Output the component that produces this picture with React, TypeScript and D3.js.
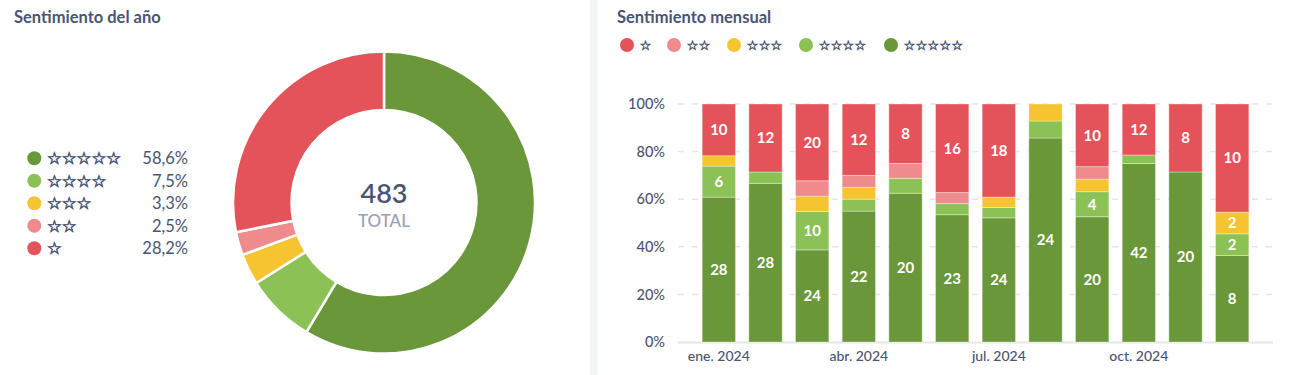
import React from "react";
import * as d3 from "d3";

const ratingLabels = ["☆☆☆☆☆", "☆☆☆☆", "☆☆☆", "☆☆", "☆"];
const ratingColors = ["#69973a", "#8bc155", "#f6c431", "#ef8b8c", "#e5535a"];
const yearPercentLabels = ["58,6%", "7,5%", "3,3%", "2,5%", "28,2%"];
const yearCounts = [283, 36, 16, 12, 136];
const totalCount = 483;

const months = ["ene. 2024", "feb. 2024", "mar. 2024", "abr. 2024", "may. 2024", "jun. 2024", "jul. 2024", "ago. 2024", "sep. 2024", "oct. 2024", "nov. 2024", "dic. 2024"];
const shownMonthTicks = ["ene. 2024", "abr. 2024", "jul. 2024", "oct. 2024"];
const fiveStar = [28, 28, 24, 22, 20, 23, 24, 24, 20, 42, 20, 8];
const fourStar = [6, 2, 10, 2, 2, 2, 2, 2, 4, 2, 0, 2];
const threeStar = [2, 0, 4, 2, 0, 0, 2, 2, 2, 0, 0, 2];
const twoStar = [0, 0, 4, 2, 2, 2, 0, 0, 2, 0, 0, 0];
const oneStar = [10, 12, 20, 12, 8, 16, 18, 0, 10, 12, 8, 10];
const yTicks = [0, 0.2, 0.4, 0.6, 0.8, 1];

const FONT = "Lato, 'DejaVu Sans', sans-serif";
const TEXT = "#4a5573";

export default function App() {
  const W = 1292, H = 375;
  // donut
  const cx = 384, cy = 202.5;
  const pie = d3.pie<number>().sort(null).value((d) => d).startAngle(0).endAngle(2 * Math.PI);
  const arcs = pie(yearCounts);
  const arc = d3.arc<d3.PieArcDatum<number>>().innerRadius(92.5).outerRadius(151);

  // bars
  const x = d3.scaleBand<string>().domain(months).range([678, 1273]).paddingInner(0.286).paddingOuter(0.518);
  const y = d3.scaleLinear().domain([0, 1]).range([342, 104]);
  const series = [fiveStar, fourStar, threeStar, twoStar, oneStar];
  const rows = months.map((m, i) => {
    const r: any = { month: m };
    series.forEach((s, k) => (r["k" + k] = s[i]));
    return r;
  });
  const stack = d3.stack<any>().keys(["k0", "k1", "k2", "k3", "k4"]).offset(d3.stackOffsetExpand);
  const stacked = stack(rows);

  const legendRightX = [627, 674, 734, 806, 891];

  return (
    <svg width={W} height={H} style={{ position: "absolute", left: 0, top: 0, fontFamily: FONT }}>
      <rect x={0} y={0} width={W} height={H} fill="#ffffff" />
      {/* divider */}
      <rect x={590} y={0} width={7.5} height={H} fill="#f3f4f6" />

      {/* left panel */}
      <text x={14} y={22.5} fontSize={16.5} fontWeight={700} fill={TEXT}>Sentimiento del año</text>
      {ratingLabels.map((l, i) => {
        const yy = 158.3 + i * 22.5;
        return (
          <g key={l}>
            <circle cx={34.3} cy={yy} r={7} fill={ratingColors[i]} />
            <text x={47} y={yy} dy="0.36em" fontSize={16.5} fill={TEXT} stroke={TEXT} strokeWidth={0.7} fontFamily="'DejaVu Sans', sans-serif">{l}</text>
            <text x={188} y={yy} dy="0.36em" fontSize={16.5} fill={TEXT} textAnchor="end">{yearPercentLabels[i]}</text>
          </g>
        );
      })}
      <g transform={`translate(${cx},${cy})`}>
        {arcs.map((a, i) => (
          <path key={i} d={arc(a) || ""} fill={ratingColors[i]} stroke="#ffffff" strokeWidth={2.5} />
        ))}
        <text x={0} y={-9} dy="0.36em" textAnchor="middle" fontSize={27} fontWeight={600} fill={TEXT}>{totalCount}</text>
        <text x={0} y={18} dy="0.36em" textAnchor="middle" fontSize={17} fontWeight={500} fill="#9aa0b5">TOTAL</text>
      </g>

      {/* right panel */}
      <text x={617} y={22.5} fontSize={16.5} fontWeight={700} fill={TEXT}>Sentimiento mensual</text>
      {[4, 3, 2, 1, 0].map((k, j) => (
        <g key={k}>
          <circle cx={legendRightX[j]} cy={45} r={7} fill={ratingColors[k]} />
          <text x={legendRightX[j] + 12.5} y={45} dy="0.36em" fontSize={13.3} fill={TEXT} stroke={TEXT} strokeWidth={0.5} fontFamily="'DejaVu Sans', sans-serif">{ratingLabels[k]}</text>
        </g>
      ))}

      {yTicks.map((t) => (
        <g key={t}>
          {t > 0 && (
            <line x1={678} x2={1273} y1={y(t)} y2={y(t)} stroke="#e6e6e6" strokeWidth={1.5} strokeDasharray="6,8" />
          )}
          <text x={665} y={y(t)} dy="0.36em" textAnchor="end" fontSize={14.5} fontWeight={500} fill={TEXT}>{Math.round(t * 100) + "%"}</text>
        </g>
      ))}
      <line x1={678} x2={1273} y1={342.5} y2={342.5} stroke="#e6e6e6" strokeWidth={2} />

      {stacked.map((s, k) => (
        <g key={s.key}>
          {s.map((d, i) => {
            const y0 = y(d[0]), y1 = y(d[1]);
            const h = y0 - y1;
            if (h <= 0) return null;
            const val = series[k][i];
            return (
              <g key={i}>
                <rect x={x(months[i])} y={y1} width={x.bandwidth()} height={h} fill={ratingColors[k]} stroke="rgba(255,255,255,0.35)" strokeWidth={1} />
                {h >= 20 && (
                  <text x={(x(months[i]) || 0) + x.bandwidth() / 2} y={(y0 + y1) / 2} dy="0.36em" textAnchor="middle" fontSize={15} fontWeight={700} fill="#ffffff">{val}</text>
                )}
              </g>
            );
          })}
        </g>
      ))}

      {shownMonthTicks.map((m) => (
        <text key={m} x={(x(m) || 0) + x.bandwidth() / 2} y={356} dy="0.36em" textAnchor="middle" fontSize={14} fontWeight={500} fill={TEXT}>{m}</text>
      ))}
    </svg>
  );
}
